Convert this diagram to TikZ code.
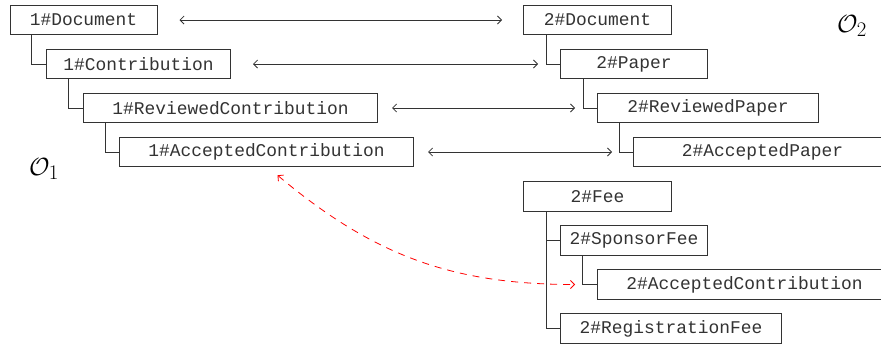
\documentclass[tikz,border=0pt]{standalone}
\usepackage{fontspec}
\setmonofont{Liberation Mono}
\usetikzlibrary{arrows.meta}
\definecolor{ink}{HTML}{333333}
\tikzset{
  cls/.style={draw=ink, line width=1pt, text=ink, anchor=west, minimum height=29.5pt, inner sep=0pt,
    font=\fontsize{17.9}{20}\selectfont\ttfamily},
  tree/.style={draw=ink, line width=1pt},
  eq/.style={draw=ink, line width=0.8pt, {Straight Barb[length=4pt,width=8pt]}-{Straight Barb[length=4pt,width=8pt]}},
  align/.style={draw=red, line width=0.8pt, dash pattern=on 7pt off 6pt, {Straight Barb[length=4pt,width=8pt]}-{Straight Barb[length=4pt,width=8pt]}},
  onto/.style={font=\fontsize{28}{32}\selectfont, inner sep=0pt}
}
\begin{document}
\begin{tikzpicture}[x=1pt, y=-1pt]
\useasboundingbox (0,0) rectangle (881,346);
\clip (0,0) rectangle (881,346);
% ontology 1
\node[cls, minimum width=147pt] (d1) at (9.5,20) {1\#Document};
\node[cls, minimum width=184pt] (c1) at (46,64) {1\#Contribution};
\node[cls, minimum width=294pt] (r1) at (83,108) {1\#ReviewedContribution};
\node[cls, minimum width=294pt] (a1) at (119,152) {1\#AcceptedContribution};
% ontology 2
\node[cls, minimum width=148pt] (d2) at (523,20) {2\#Document};
\node[cls, minimum width=147pt] (p2) at (560,64) {2\#Paper};
\node[cls, minimum width=221pt] (r2) at (597,108) {2\#ReviewedPaper};
\node[cls, minimum width=258pt] (a2) at (633,152) {2\#AcceptedPaper};
\node[cls, minimum width=148pt] (f2) at (523,196.5) {2\#Fee};
\node[cls, minimum width=147pt] (s2) at (560,240.5) {2\#SponsorFee};
\node[cls, minimum width=294pt] (ac2) at (597,284.5) {2\#AcceptedContribution};
\node[cls, minimum width=221pt] (rf2) at (560,328.5) {2\#RegistrationFee};
% labels
\node[onto] (o1) at (44,169) {$\mathcal{O}_1$};
\node[onto] (o2) at (852,26) {$\mathcal{O}_2$};
% hierarchy
\draw[tree] ([xshift=22pt]d1.south west) |- (c1.west);
\draw[tree] ([xshift=22pt]c1.south west) |- (r1.west);
\draw[tree] ([xshift=22pt]r1.south west) |- (a1.west);
\draw[tree] ([xshift=23pt]d2.south west) |- (p2.west);
\draw[tree] ([xshift=23pt]p2.south west) |- (r2.west);
\draw[tree] ([xshift=22pt]r2.south west) |- (a2.west);
\draw[tree] ([xshift=23pt]f2.south west) |- (s2.west);
\draw[tree] ([xshift=23pt]f2.south west) |- (rf2.west);
\draw[tree] ([xshift=22.5pt]s2.south west) |- (ac2.west);
% equivalences
\draw[eq] ([xshift=22pt]d1.east) -- ([xshift=-21pt]d2.west);
\draw[eq] ([xshift=22pt]c1.east) -- ([xshift=-22pt]p2.west);
\draw[eq] ([xshift=14pt]r1.east) -- ([xshift=-22pt]r2.west);
\draw[eq] ([xshift=14pt]a1.east) -- ([xshift=-21pt]a2.west);
% red alignment
\draw[align] ([shift={(11pt,-8pt)}]a1.south) to[out=-40, in=180] ([xshift=-22pt]ac2.west);
\end{tikzpicture}
\end{document}
